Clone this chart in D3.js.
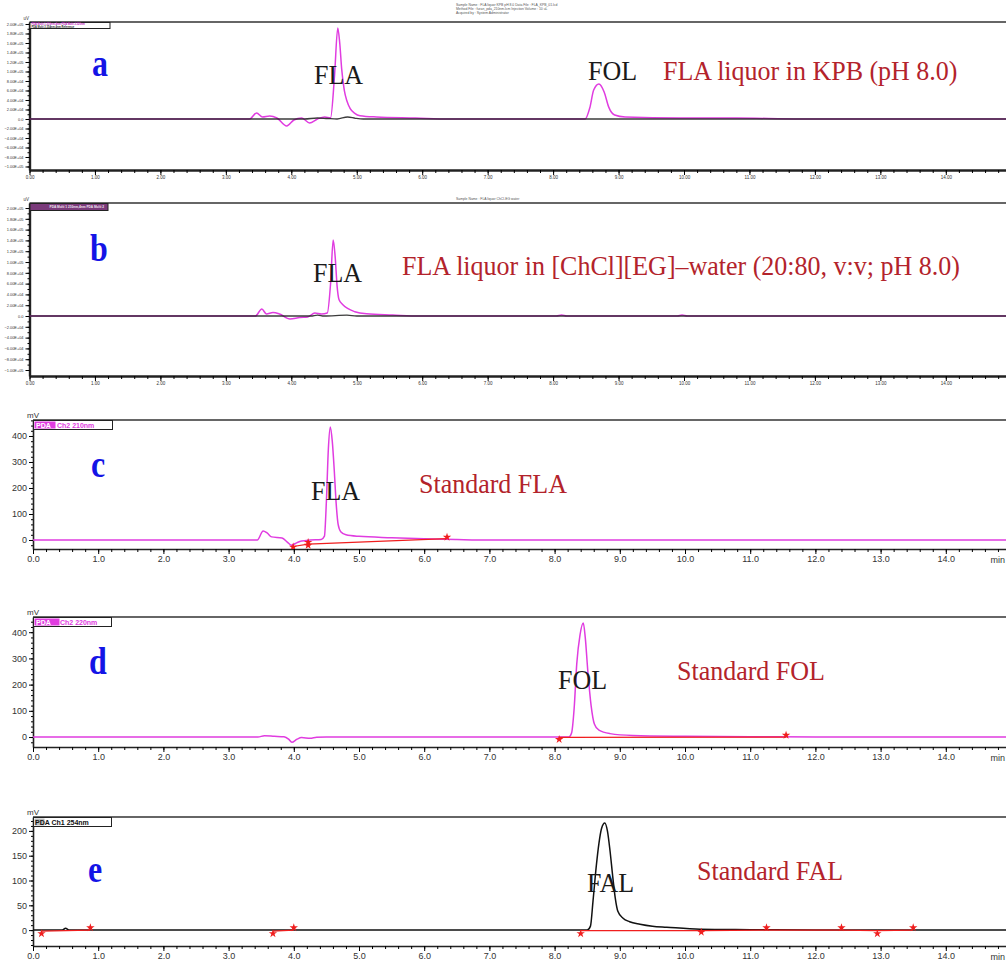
<!DOCTYPE html>
<html>
<head>
<meta charset="utf-8">
<script src="https://cdn.jsdelivr.net/npm/d3@7"></script>
<style>
  body { margin: 0; background: #fff; }
  svg { display: block; }
</style>
</head>
<body>
<div id="chart"></div>
<script>
// ---- chromatogram data: [retention time (min), signal]
// panel a: FLA liquor in KPB (uV)
var traceA_pda = [[0,0],[3.36,0],[3.47,12600],[3.56,4200],[3.67,6300],[3.78,2100],[3.93,-14700],
  [4.04,-2100],[4.16,2000],[4.28,-8400],[4.40,0],[4.51,4200],[4.60,2500],[4.66,90000],[4.71,191600],
  [4.74,160000],[4.77,105000],[4.81,60000],[4.85,38000],[4.90,22000],[4.97,12000],[5.05,7000],
  [5.30,4200],[5.90,2000],[6.40,0],[8.49,0],[8.56,23000],[8.62,61000],[8.70,73700],[8.78,56800],
  [8.85,25000],[8.94,8400],[9.10,4200],[9.94,2000],[10.81,2000],[11.77,0],[15,0]];
var traceA_ref = [[0,0],[4.20,0],[4.40,2100],[4.55,1000],[4.70,0],[4.86,4200],[4.98,1500],[5.10,0],[15,0]];

// panel b: FLA liquor in [ChCl][EG]-water (uV)
var traceB_pda = [[0,0],[3.45,0],[3.55,13000],[3.62,3700],[3.72,6500],[3.82,3700],[3.98,-5600],
  [4.13,-2800],[4.25,-1900],[4.36,5600],[4.46,3700],[4.55,5600],[4.60,60000],[4.64,140700],
  [4.67,110000],[4.70,55000],[4.73,30000],[4.78,22000],[4.86,14000],[4.97,8000],[5.15,4000],
  [5.55,1850],[5.96,0],[8.05,0],[8.13,1850],[8.21,0],[9.90,0],[9.97,1850],[10.05,0],[15,0]];
var traceB_ref = [[0,0],[4.30,0],[4.40,1800],[4.50,0],[4.85,1800],[5.00,0],[15,0]];

// panel c: standard FLA (mV)
var traceC = [[0,0],[3.44,0],[3.53,35],[3.59,27],[3.66,12],[3.82,8],[3.90,-8],[3.96,-20],[4.05,-10],
  [4.12,-4],[4.25,0],[4.42,2],[4.47,15],[4.50,150],[4.53,350],[4.56,435],[4.59,380],[4.62,270],
  [4.65,140],[4.68,60],[4.72,32],[4.80,20],[5.00,14],[5.50,9],[6.00,5],[6.50,2],[7.00,0],[15,0]];
var cutC = [[3.99,-25],[4.22,-16],[6.35,5]];
var marksC = [[3.99,-27],[4.22,-9],[4.22,-20],[6.35,11]];

// panel d: standard FOL (mV)
var traceD = [[0,0],[3.45,0],[3.55,5],[3.70,3],[3.85,1],[3.92,-8],[3.97,-20],[4.05,-8],[4.12,-2],
  [4.25,-5],[4.35,-1],[4.50,0],[8.22,0],[8.26,15],[8.30,110],[8.34,280],[8.39,390],[8.44,435],
  [8.47,380],[8.51,250],[8.56,120],[8.61,50],[8.68,26],[8.85,13],[9.20,6],[10.00,3],[11.00,1.5],
  [12.00,0],[15,0]];
var cutD = [[8.07,-1],[11.55,0]];
var marksD = [[8.07,-9],[11.55,7]];

// panel e: standard FAL (mV)
var traceE = [[0,0],[0.45,0],[0.50,4],[0.55,0],[8.50,0],[8.55,8],[8.59,60],[8.64,130],[8.68,175],
  [8.72,205],[8.77,216],[8.81,200],[8.85,160],[8.89,110],[8.93,65],[8.97,38],[9.05,24],[9.15,17],
  [9.31,12],[9.50,8],[9.72,6],[10.23,2],[11.00,1],[12.00,0],[15,0]];
var cutE = [[[0.13,-2],[0.88,0]], [[3.68,-2],[4.00,0]], [[8.40,-1],[10.25,-1],[11.25,0],[12.40,0],[12.95,-1],[13.50,0]]];
var marksE = [[0.13,-7],[0.88,5],[3.68,-7],[4.00,5],[8.40,-7],[10.25,-4],[11.25,5],[12.40,5],[12.95,-7],[13.50,5]];

// ---- tick labels
var timeTicks = [0,1,2,3,4,5,6,7,8,9,10,11,12,13,14];
var uvTicks = [-100000,-80000,-60000,-40000,-20000,0,20000,40000,60000,80000,100000,120000,140000,160000,180000,200000];
var mvTicks = [0,100,200,300,400];
var mvTicksE = [0,50,100,150,200];

var magenta = "#e03ce0", cutRed = "#f01e1e", darkRed = "#b3232b", blue = "#1414e6";

var svg = d3.select("#chart")
  .append("svg")
    .attr("width", 1006)
    .attr("height", 963);

var defs = svg.append("defs");

function sciFmt(v) {
  if (v === 0) return "0.0";
  return d3.format(".2e")(v).toUpperCase().replace(/E([+-])(\d)$/, "E$10$2");
}

function drawPanel(p) {
  var g = svg.append("g");
  var right = 1006;
  var x = d3.scaleLinear().domain([0, 15]).range([p.x0, p.x0 + 15 * p.pxPerMin]);
  var y = d3.scaleLinear().domain(p.yDomain).range([p.bottom, p.top]);

  defs.append("clipPath").attr("id", "clip-" + p.id)
    .append("rect")
      .attr("x", p.x0).attr("y", p.top)
      .attr("width", right - p.x0).attr("height", p.bottom - p.top);

  // top frame line
  g.append("line")
    .attr("x1", p.x0).attr("x2", right)
    .attr("y1", p.top).attr("y2", p.top)
    .attr("stroke", "#333").attr("stroke-width", 1.3);

  // x axis, minor then major
  g.append("g")
    .attr("transform", "translate(0," + p.bottom + ")")
    .call(d3.axisBottom(x).tickValues(d3.range(0, 15.01, 0.2)).tickSize(3).tickSizeOuter(0).tickFormat(""))
    .call(a => a.select(".domain").attr("stroke", "#222").attr("stroke-width", p.axisW));
  var xa = g.append("g")
    .attr("transform", "translate(0," + p.bottom + ")")
    .call(d3.axisBottom(x).tickValues(p.xTicks).tickSize(5).tickSizeOuter(0).tickFormat(p.xFmt));
  xa.select(".domain").remove();
  xa.selectAll("text")
    .attr("font-family", "Liberation Sans, Arial, sans-serif")
    .attr("font-size", p.tickFont).attr("fill", "#333").attr("dy", p.xLabelDy);

  // y axis
  g.append("g")
    .attr("transform", "translate(" + p.x0 + ",0)")
    .call(d3.axisLeft(y).tickValues(p.yMinor).tickSize(2).tickSizeOuter(0).tickFormat(""))
    .call(a => a.select(".domain").attr("stroke", "#222").attr("stroke-width", p.axisW));
  var ya = g.append("g")
    .attr("transform", "translate(" + p.x0 + ",0)")
    .call(d3.axisLeft(y).tickValues(p.yTicks).tickSize(4).tickSizeOuter(0).tickFormat(p.yFmt));
  ya.select(".domain").remove();
  ya.selectAll("text")
    .attr("font-family", "Liberation Sans, Arial, sans-serif")
    .attr("font-size", p.yTickFont || p.tickFont).attr("fill", "#333").attr("dx", 1);

  // unit label
  g.append("text")
    .attr("x", p.x0 - 6).attr("y", p.top - 2)
    .attr("font-family", "Liberation Sans, Arial, sans-serif")
    .attr("font-size", p.unitFont).attr("fill", "#333")
    .text(p.unit);

  // "min" at the end of the time axis
  if (p.minLabel) {
    g.append("text")
      .attr("x", 1005).attr("y", p.bottom + 14)
      .attr("text-anchor", "end")
      .attr("font-family", "Liberation Sans, Arial, sans-serif")
      .attr("font-size", p.tickFont).attr("fill", "#333")
      .text("min");
  }

  var line = d3.line()
    .x(d => x(d[0]))
    .y(d => y(d[1]))
    .curve(d3.curveMonotoneX);

  var plot = g.append("g").attr("clip-path", "url(#clip-" + p.id + ")");

  p.traces.forEach(function(t) {
    plot.append("path")
      .datum(t.data)
      .attr("fill", "none")
      .attr("stroke", t.color)
      .attr("stroke-width", t.width)
      .attr("stroke-opacity", t.opacity || 1)
      .attr("d", line);
  });

  // integration baselines and peak start/end marks
  var straight = d3.line().x(d => x(d[0])).y(d => y(d[1]));
  (p.cuts || []).forEach(function(c) {
    plot.append("path").datum(c)
      .attr("fill", "none").attr("stroke", cutRed).attr("stroke-width", 1.2)
      .attr("d", straight);
  });
  plot.selectAll(".mark")
    .data(p.marks || [])
    .join("path")
      .attr("class", "mark")
      .attr("transform", d => "translate(" + x(d[0]) + "," + y(d[1]) + ")")
      .attr("d", d3.symbol().type(d3.symbolStar).size(22))
      .attr("fill", cutRed);

  // legend box
  var lg = g.append("g");
  lg.append("rect")
    .attr("x", p.x0 + 0.5).attr("y", p.top + 0.5)
    .attr("width", p.legW).attr("height", p.legH)
    .attr("fill", p.legFill).attr("stroke", "#222").attr("stroke-width", 1);
  if (p.legHl) {
    lg.append("rect")
      .attr("x", p.x0 + 1.5).attr("y", p.top + 1.5)
      .attr("width", p.legHl).attr("height", p.legH - 2)
      .attr("fill", p.legHlColor);
  }
  p.legend.forEach(function(l) {
    lg.append("text")
      .attr("x", p.x0 + l.dx).attr("y", p.top + l.dy)
      .attr("font-family", "Liberation Sans, Arial, sans-serif")
      .attr("font-weight", "bold")
      .attr("font-size", l.size).attr("fill", l.color)
      .text(l.text);
  });

  // annotations
  p.notes.forEach(function(n) {
    g.append("text")
      .attr("transform", "translate(" + n.x + "," + n.y + ") scale(1," + (n.sy || 1) + ")")
      .attr("font-family", "Liberation Serif, Times New Roman, serif")
      .attr("font-size", n.size)
      .attr("font-weight", n.bold ? "bold" : "normal")
      .attr("fill", n.color)
      .text(n.text);
  });
}

var fmt2 = d3.format(".2f"), fmt1 = d3.format(".1f");
var uvMinor = d3.range(-100000, 210000, 10000);

var panels = [
  {
    id: "a", top: 22, bottom: 170, x0: 29.5, pxPerMin: 65.45, yDomain: [-107400, 204200],
    xTicks: timeTicks, xFmt: fmt2, yTicks: uvTicks, yMinor: uvMinor, yFmt: sciFmt,
    tickFont: 4.5, yTickFont: 3.9, unitFont: 4.5, unit: "uV", xLabelDy: "0.3em", axisW: 2.4, minLabel: false,
    traces: [
      {data: traceA_pda, color: magenta, width: 1.5},
      {data: traceA_ref, color: "#1a1a1a", width: 1.3, opacity: 0.85}
    ],
    legW: 80, legH: 6, legFill: "#fff", legHl: 0,
    legend: [
      {text: "PDA Multi 1 210nm,4nm   PDA Multi 2 220nm", dx: 2, dy: 3, size: 2.6, color: "#c020c0"},
      {text: "PDA Multi 3 254nm,4nm   Reference", dx: 2, dy: 5.6, size: 2.6, color: "#222"}
    ],
    notes: [
      {text: "a", x: 92, y: 76, size: 32, bold: true, color: blue, sy: 1.2},
      {text: "FLA", x: 314, y: 84, size: 26, color: "#1a1a1a", sy: 1.08},
      {text: "FOL", x: 588, y: 80, size: 26, color: "#1a1a1a", sy: 1.08},
      {text: "FLA liquor in KPB (pH 8.0)", x: 663, y: 80, size: 26, color: darkRed, sy: 1.05}
    ]
  },
  {
    id: "b", top: 203, bottom: 376, x0: 29.5, pxPerMin: 65.45, yDomain: [-111100, 209300],
    xTicks: timeTicks, xFmt: fmt2, yTicks: uvTicks, yMinor: uvMinor, yFmt: sciFmt,
    tickFont: 4.5, yTickFont: 3.9, unitFont: 4.5, unit: "uV", xLabelDy: "0.3em", axisW: 2.4, minLabel: false,
    traces: [
      {data: traceB_pda, color: magenta, width: 1.5},
      {data: traceB_ref, color: "#1a1a1a", width: 1.3, opacity: 0.85}
    ],
    legW: 78, legH: 7, legFill: "#7a3a7a", legHl: 0,
    legend: [
      {text: "PDA Multi 1 210nm,4nm   PDA Multi 2", dx: 20, dy: 5.2, size: 3.2, color: "#f2e8f2"}
    ],
    notes: [
      {text: "b", x: 90, y: 261, size: 32, bold: true, color: blue, sy: 1.2},
      {text: "FLA", x: 313, y: 282, size: 26, color: "#1a1a1a", sy: 1.08},
      {text: "FLA liquor in [ChCl][EG]\u2013water (20:80, v:v; pH 8.0)", x: 402, y: 275, size: 26, color: darkRed, sy: 1.05}
    ]
  },
  {
    id: "c", top: 420, bottom: 549, x0: 33, pxPerMin: 65.2, yDomain: [-34.6, 461.5],
    xTicks: timeTicks, xFmt: fmt1, yTicks: mvTicks, yMinor: d3.range(-20, 461, 20), yFmt: d3.format("d"),
    tickFont: 9, unitFont: 8, unit: "mV", xLabelDy: "0.5em", axisW: 1.6, minLabel: true,
    traces: [{data: traceC, color: magenta, width: 1.5}],
    cuts: [cutC], marks: marksC,
    legW: 79, legH: 9, legFill: "#fff", legHl: 21, legHlColor: magenta,
    legend: [
      {text: "PDA", dx: 3, dy: 7.5, size: 7, color: "#fff"},
      {text: "Ch2 210nm", dx: 24, dy: 7.5, size: 7, color: magenta}
    ],
    notes: [
      {text: "c", x: 91, y: 477, size: 32, bold: true, color: blue, sy: 1.2},
      {text: "FLA", x: 311, y: 500, size: 26, color: "#1a1a1a", sy: 1.08},
      {text: "Standard FLA", x: 419, y: 493, size: 26, color: darkRed, sy: 1.05}
    ]
  },
  {
    id: "d", top: 617, bottom: 747, x0: 33, pxPerMin: 65.2, yDomain: [-38, 458],
    xTicks: timeTicks, xFmt: fmt1, yTicks: mvTicks, yMinor: d3.range(-20, 451, 20), yFmt: d3.format("d"),
    tickFont: 9, unitFont: 8, unit: "mV", xLabelDy: "0.5em", axisW: 1.6, minLabel: true,
    traces: [{data: traceD, color: magenta, width: 1.5}],
    cuts: [cutD], marks: marksD,
    legW: 78, legH: 9, legFill: "#fff", legHl: 25, legHlColor: magenta,
    legend: [
      {text: "PDA", dx: 3, dy: 7.5, size: 7, color: "#fff"},
      {text: "Ch2 220nm", dx: 27, dy: 7.5, size: 7, color: magenta}
    ],
    notes: [
      {text: "d", x: 89, y: 674, size: 32, bold: true, color: blue, sy: 1.2},
      {text: "FOL", x: 558, y: 689, size: 26, color: "#1a1a1a", sy: 1.08},
      {text: "Standard FOL", x: 677, y: 680, size: 26, color: darkRed, sy: 1.05}
    ]
  },
  {
    id: "e", top: 817, bottom: 946, x0: 33, pxPerMin: 65.2, yDomain: [-32, 228],
    xTicks: timeTicks, xFmt: fmt1, yTicks: mvTicksE, yMinor: d3.range(-30, 221, 10), yFmt: d3.format("d"),
    tickFont: 9, unitFont: 8, unit: "mV", xLabelDy: "0.5em", axisW: 1.6, minLabel: true,
    traces: [{data: traceE, color: "#111", width: 1.5}],
    cuts: cutE, marks: marksE,
    legW: 78, legH: 9, legFill: "#fff", legHl: 10, legHlColor: "#bbb",
    legend: [
      {text: "PDA Ch1 254nm", dx: 2, dy: 7.5, size: 7, color: "#111"}
    ],
    notes: [
      {text: "e", x: 88, y: 882, size: 32, bold: true, color: blue, sy: 1.2},
      {text: "FAL", x: 587, y: 892, size: 26, color: "#1a1a1a", sy: 1.08},
      {text: "Standard FAL", x: 697, y: 880, size: 26, color: darkRed, sy: 1.05}
    ]
  }
];

panels.forEach(drawPanel);

// tiny report header above panel a and b
var header = svg.append("g")
  .attr("font-family", "Liberation Sans, Arial, sans-serif")
  .attr("font-size", 3.4)
  .attr("fill", "#555");
header.append("text").attr("x", 456).attr("y", 6).text("Sample Name : FLA liquor KPB pH 8.0   Data File : FLA_KPB_01.lcd");
header.append("text").attr("x", 456).attr("y", 10).text("Method File : furan_pda_210nm.lcm   Injection Volume : 10 uL");
header.append("text").attr("x", 456).attr("y", 14).text("Acquired by : System Administrator");
header.append("text").attr("x", 456).attr("y", 200).text("Sample Name : FLA liquor ChCl-EG water");
</script>
</body>
</html>
